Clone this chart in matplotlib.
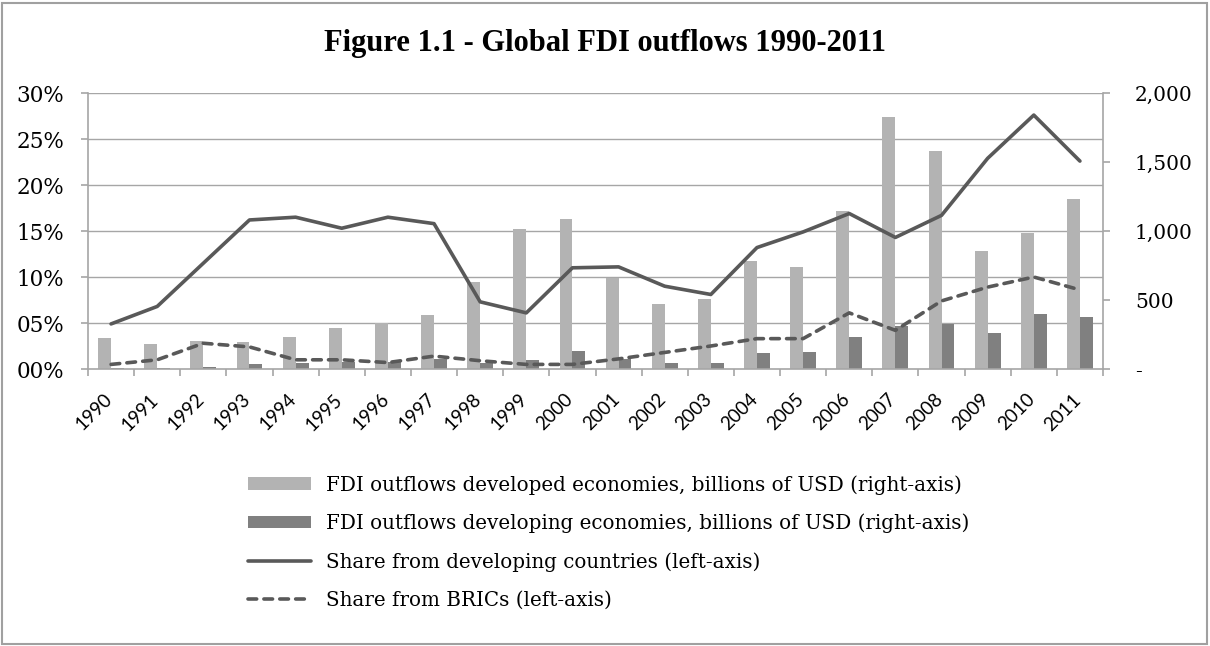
import matplotlib
matplotlib.use("Agg")
import matplotlib.pyplot as plt
import matplotlib.transforms as mtransforms
from matplotlib.patches import Rectangle
from matplotlib.ticker import FuncFormatter, MultipleLocator

years = [str(y) for y in range(1990, 2012)]

# billions of USD (right axis)
developed_fdi = [222, 179, 200, 193, 232, 299, 331, 391, 630, 1014, 1085,
                 657, 471, 510, 785, 737, 1147, 1826, 1580, 853, 985, 1234]
developing_fdi = [8, 9, 17, 34, 41, 51, 54, 70, 46, 65, 130,
                  75, 41, 41, 118, 126, 234, 312, 326, 263, 396, 379]

# shares in percent (left axis)
share_developing = [4.9, 6.8, 11.5, 16.2, 16.5, 15.3, 16.5, 15.8, 7.3, 6.1, 11.0,
                    11.1, 9.0, 8.1, 13.2, 14.9, 16.9, 14.3, 16.7, 22.9, 27.6, 22.6]
share_brics = [0.5, 1.0, 2.8, 2.4, 1.0, 1.0, 0.7, 1.4, 0.9, 0.5, 0.5,
               1.1, 1.8, 2.5, 3.3, 3.3, 6.1, 4.2, 7.4, 8.9, 10.0, 8.6]

SERIF = "DejaVu Serif"
SANS = "Lato"
GRID = "#a6a6a6"
LINE = "#595959"

W, H = 1210, 646
fig = plt.figure(figsize=(W / 100, H / 100), dpi=100)

# light frame round the whole chart
fig.patches.append(Rectangle((2 / W, 2 / H), (W - 5) / W, (H - 5) / H,
                             transform=fig.transFigure, fill=False,
                             edgecolor="#a0a0a0", linewidth=1.5))

ax = fig.add_axes([88 / W, 277 / H, 1015 / W, 276 / H])
ax2 = ax.twinx()

x = list(range(len(years)))
bw = 0.28
b1 = ax2.bar([i - bw / 2 for i in x], developed_fdi, width=bw, color="#b3b3b3",
             label="FDI outflows developed economies, billions of USD (right-axis)")
b2 = ax2.bar([i + bw / 2 for i in x], developing_fdi, width=bw, color="#808080",
             label="FDI outflows developing economies, billions of USD (right-axis)")

# lines go on top of the bars
ax.set_zorder(ax2.get_zorder() + 1)
ax.patch.set_visible(False)
l1, = ax.plot(x, share_developing, color=LINE, linewidth=2.6,
              solid_capstyle="round", label="Share from developing countries (left-axis)")
l2, = ax.plot(x, share_brics, color=LINE, linewidth=2.6, dashes=(2.4, 2.0),
              dash_capstyle="round", label="Share from BRICs (left-axis)")

ax.set_xlim(-0.5, len(years) - 0.5)
ax.set_ylim(0, 30)
ax2.set_ylim(0, 2000)

# horizontal gridlines every 5 % on the bar axes, behind the bars
for p in range(5, 31, 5):
    ax2.axhline(p / 30 * 2000, color=GRID, linewidth=1.0, zorder=0)

ax.yaxis.set_major_locator(MultipleLocator(5))
ax.yaxis.set_major_formatter(FuncFormatter(lambda v, _: f"{v:02.0f}%"))
ax2.yaxis.set_major_locator(MultipleLocator(500))
ax2.yaxis.set_major_formatter(FuncFormatter(lambda v, _: "-" if v == 0 else f"{v:,.0f}"))

# tick marks between categories, year labels under each category
ax.set_xticks([i - 0.5 for i in range(len(years) + 1)], minor=False)
ax.set_xticklabels([])
ax.set_xticks(x, minor=True)
ax.tick_params(axis="x", which="minor", length=0, pad=12)
ax.tick_params(axis="x", which="major", length=5, color=GRID, width=1.2)
ax.set_xticklabels(years, minor=True, rotation=45, ha="right", va="top",
                   rotation_mode="anchor", family=SANS, fontsize=13.5)
shift = mtransforms.ScaledTranslation(-8 / 100, -5 / 100, fig.dpi_scale_trans)
for lab in ax.get_xticklabels(minor=True):
    lab.set_transform(lab.get_transform() + shift)

for a in (ax, ax2):
    for s in a.spines.values():
        s.set_visible(False)
ax.spines["left"].set_visible(True)
ax.spines["bottom"].set_visible(True)
ax2.spines["right"].set_visible(True)
for s in (ax.spines["left"], ax.spines["bottom"], ax2.spines["right"]):
    s.set_color(GRID)
    s.set_linewidth(1.2)

ax.tick_params(axis="y", length=5, color=GRID, width=1.2, pad=12)
ax2.tick_params(axis="y", length=5, color=GRID, width=1.2, pad=18)
for lab in ax.get_yticklabels():
    lab.set_family(SERIF)
    lab.set_fontsize(15.5)
for lab in ax2.get_yticklabels():
    lab.set_family(SERIF)
    lab.set_fontsize(14.5)

fig.text(0.5, 1 - 43 / H, "Figure 1.1 - Global FDI outflows 1990-2011",
         ha="center", va="center", family="Liberation Serif",
         fontweight="bold", fontsize=22)

fig.legend(handles=[b1, b2, l1, l2], loc="upper left",
           bbox_to_anchor=(240 / W, 1 - 467 / H), frameon=False,
           prop={"family": SERIF, "size": 14.3}, handlelength=3.15,
           handleheight=0.6, handletextpad=0.78, labelspacing=0.95,
           borderaxespad=0)

fig.savefig("out.png", dpi=100)
